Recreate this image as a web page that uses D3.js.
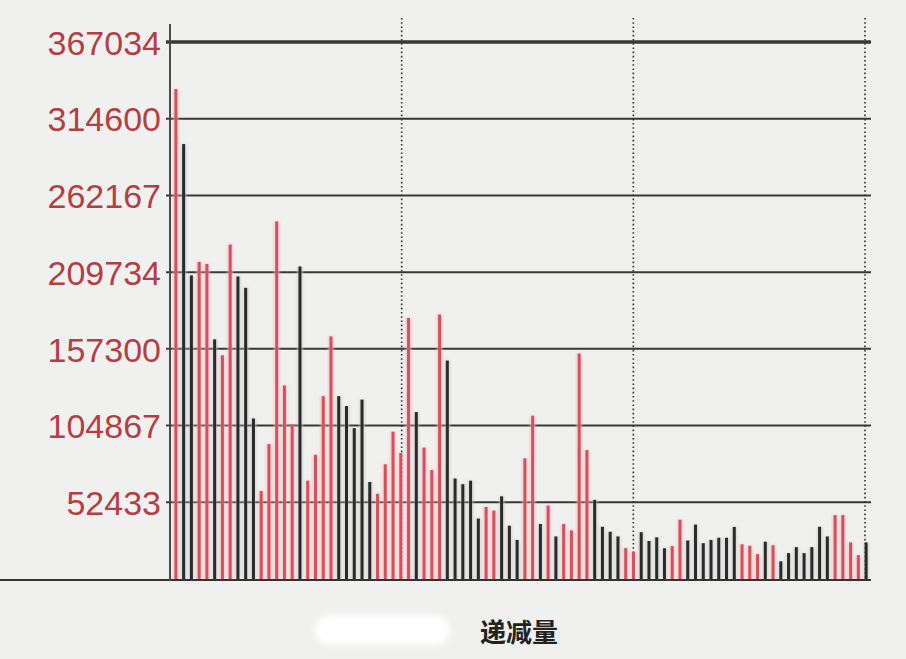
<!DOCTYPE html>
<html>
<head>
<meta charset="utf-8">
<script src="https://cdn.jsdelivr.net/npm/d3@7"></script>
<style>
  html, body { margin: 0; padding: 0; background: #f0f0ef; }
  svg { display: block; }
</style>
</head>
<body>
<svg id="chart" width="906" height="659"></svg>
<script>
// ---- data ----
const tickValues = [52433, 104867, 157300, 209734, 262167, 314600, 367034];
const tickLabels = ["52433", "104867", "157300", "209734", "262167", "314600", "367034"];
const xLabel = "递减量";
const values = [
  334900, 297300, 207500, 216700, 215300, 163800, 152900, 228600, 206800, 199000,
  109700, 60200, 92200, 244400, 132300, 105600, 213600, 67200, 84900, 125000,
  165800, 125000, 118200, 103100, 122600, 66300, 58200, 78400, 100700, 86200,
  178400, 114100, 89800, 74500, 180800, 149300, 68700, 64800, 67200, 41300,
  49300, 46800, 56500, 36400, 26700, 82500, 111600, 37600, 50200, 29100,
  37600, 33200, 154100, 88100, 54100, 35700, 32300, 29100, 21100, 18700,
  32000, 26000, 28500, 21000, 22500, 40500, 26300, 37200, 24500, 26700,
  28200, 28200, 35600, 23700, 22700, 17000, 25500, 23100, 12100, 17700,
  21800, 17700, 21800, 35700, 29100, 43700, 43700, 25000, 16300, 25000
];
// R = red bar, K = dark bar
const colorsCode = "RKKRRKRRKKKRRRRRKRRRRKKKKKRRRRRKRRRKKKKKRRKKKRRKRKRRRRKKKKRRKKKKRRKKKKKKKRRRKRKKKKKKKRRRRK";
const sections = [0, 1, 2, 3];

// ---- layout ----
const svg = d3.select("#chart");
const plot = { left: 170, right: 871, top: 42, bottom: 579 };
const red = "#d6505c", dark = "#2a2a2a";

const y = d3.scaleLinear().domain([0, 367034]).range([plot.bottom, plot.top]);
const x = d3.scaleBand().domain(d3.range(values.length)).range([172, 870]).paddingInner(0);
const xs = d3.scaleLinear().domain([0, 3]).range([plot.left, 865]);

const defs = svg.append("defs");
defs.append("filter").attr("id", "blur").attr("x", "-50%").attr("y", "-100%").attr("width", "200%").attr("height", "300%")
  .append("feGaussianBlur").attr("stdDeviation", 3);
defs.append("filter").attr("id", "soft").attr("x", "-50%").attr("y", "-5%").attr("width", "200%").attr("height", "110%")
  .append("feGaussianBlur").attr("stdDeviation", 1.2);

// gridlines
const grid = svg.append("g");
grid.selectAll("line").data(tickValues).join("line")
  .attr("x1", plot.left - 4).attr("x2", plot.right)
  .attr("y1", d => y(d)).attr("y2", d => y(d))
  .attr("stroke", "#383838")
  .attr("stroke-width", (d, i) => i === tickValues.length - 1 ? 3.5 : 2);

// dotted separators
svg.append("g").selectAll("line").data(sections.slice(1)).join("line")
  .attr("x1", d => xs(d)).attr("x2", d => xs(d))
  .attr("y1", 18).attr("y2", plot.bottom)
  .attr("stroke", "#333").attr("stroke-width", 1.6)
  .attr("stroke-dasharray", "1.6,2.6");

// bar halos
const bars = svg.append("g");
bars.selectAll("rect.halo").data(values).join("rect")
  .attr("class", "halo")
  .attr("x", (d, i) => x(i) + x.bandwidth() / 2 - 3)
  .attr("width", 6)
  .attr("y", d => y(d))
  .attr("height", d => plot.bottom - y(d))
  .attr("fill", (d, i) => colorsCode[i] === "R" ? "#f4b7bd" : "#c9c9c9")
  .attr("opacity", 0.6)
  .attr("filter", "url(#soft)");
bars.selectAll("rect.bar").data(values).join("rect")
  .attr("class", "bar")
  .attr("x", (d, i) => x(i) + x.bandwidth() / 2 - 1.5)
  .attr("width", 3)
  .attr("y", d => y(d))
  .attr("height", d => plot.bottom - y(d))
  .attr("fill", (d, i) => colorsCode[i] === "R" ? red : dark);

// baseline
svg.append("line")
  .attr("x1", 0).attr("x2", plot.right)
  .attr("y1", y(0) + 1).attr("y2", y(0) + 1)
  .attr("stroke", "#333").attr("stroke-width", 2);

// y axis line
svg.append("line")
  .attr("x1", plot.left).attr("x2", plot.left)
  .attr("y1", 24).attr("y2", plot.bottom + 2)
  .attr("stroke", "#4a4a4a").attr("stroke-width", 2);

// y tick labels
const yAxis = d3.axisLeft(y).tickValues(tickValues).tickFormat((d, i) => tickLabels[i]).tickSize(0).tickPadding(9);
const ga = svg.append("g").attr("transform", `translate(${plot.left},0)`).call(yAxis);
ga.select(".domain").remove();
ga.selectAll("text")
  .attr("fill", "#b53e44")
  .attr("dy", "0.36em")
  .style("font-family", "'Liberation Sans', Arial, sans-serif")
  .style("font-size", "34px");

// white blob
svg.append("rect")
  .attr("x", 315).attr("y", 615).attr("width", 135).attr("height", 30)
  .attr("rx", 15)
  .attr("fill", "#ffffff").attr("filter", "url(#blur)");

// x label
svg.append("text")
  .attr("x", 519).attr("y", 642)
  .attr("text-anchor", "middle")
  .attr("fill", "#222")
  .style("font-family", "'Noto Sans CJK SC', sans-serif")
  .style("font-weight", "bold")
  .style("font-size", "26px")
  .text(xLabel);
</script>
</body>
</html>
